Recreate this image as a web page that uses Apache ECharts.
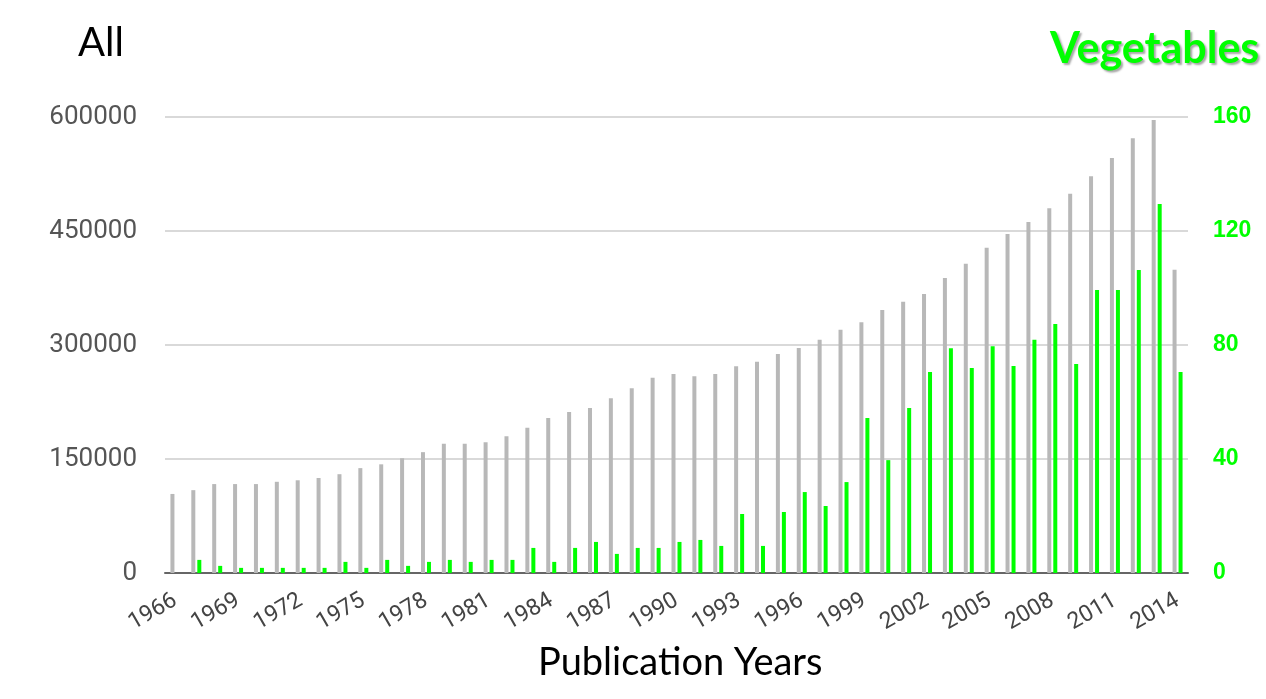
<!DOCTYPE html>
<html>
<head>
<meta charset="utf-8">
<title>Publication Years</title>
<script src="https://cdn.jsdelivr.net/npm/echarts@6/dist/echarts.min.js"></script>
<style>
  html, body { margin: 0; padding: 0; background: #fff; }
  #container { width: 1266px; height: 699px; }
</style>
</head>
<body>
<div id="container"></div>
<script>
// 年份
const years = [
  '1966', '1967', '1968', '1969', '1970', '1971', '1972', '1973', '1974', '1975',
  '1976', '1977', '1978', '1979', '1980', '1981', '1982', '1983', '1984', '1985',
  '1986', '1987', '1988', '1989', '1990', '1991', '1992', '1993', '1994', '1995',
  '1996', '1997', '1998', '1999', '2000', '2001', '2002', '2003', '2004', '2005',
  '2006', '2007', '2008', '2009', '2010', '2011', '2012', '2013', '2014'
]

// All (左轴)
const allValues = [
  104000, 109000, 117000, 117000, 117000, 120000, 122000, 125000, 130000, 138000,
  143000, 151000, 159000, 170000, 170000, 172000, 180000, 191000, 204000, 212000,
  217000, 230000, 243000, 257000, 262000, 259000, 262000, 272000, 278000, 288000,
  296000, 307000, 320000, 330000, 346000, 357000, 367000, 388000, 407000, 428000,
  446000, 462000, 480000, 499000, 522000, 546000, 572000, 596000, 399000
]

// Vegetables (右轴)，读图估计
const vegValues = [
  0, 4.6, 2.5, 1.8, 1.8, 1.8, 1.8, 1.8, 3.9, 1.8,
  4.6, 2.5, 3.9, 4.6, 3.9, 4.6, 4.6, 8.8, 3.9, 8.8,
  10.9, 6.7, 8.8, 8.8, 10.9, 11.6, 9.5, 20.7, 9.5, 21.4,
  28.4, 23.5, 31.9, 54.4, 39.6, 57.9, 70.5, 78.9, 71.9, 79.6,
  72.6, 81.8, 87.4, 73.3, 99.3, 99.3, 106.3, 129.5, 70.5
]

// 刻度
const leftTicks = { min: 0, max: 600000, interval: 150000 }
const rightTicks = { min: 0, max: 160, interval: 40 }

const grey = '#b8b8b8'
const green = '#00ff00'

let myChart = echarts.init(document.getElementById('container'))

let option = {
  animation: false,
  backgroundColor: '#fff',
  grid: {
    left: 165,
    right: 78,
    top: 117,
    bottom: 126,
    containLabel: false,
    outerBoundsMode: 'none'
  },
  xAxis: {
    type: 'category',
    data: years,
    axisLine: {
      lineStyle: { color: '#666', width: 2 }
    },
    axisTick: { show: false },
    axisLabel: {
      interval: 2,
      rotate: 30,
      margin: 26,
      color: '#444',
      fontSize: 23,
      fontFamily: 'Roboto'
    }
  },
  yAxis: [
    {
      type: 'value',
      min: leftTicks.min,
      max: leftTicks.max,
      interval: leftTicks.interval,
      axisLine: { show: false },
      axisTick: { show: false },
      axisLabel: {
        margin: 28,
        color: '#555',
        fontSize: 26,
        fontFamily: 'Roboto',
        formatter: function (v) {
          return String(v)
        }
      },
      splitLine: {
        lineStyle: { color: '#d9d9d9', width: 2 }
      }
    },
    {
      type: 'value',
      position: 'right',
      min: rightTicks.min,
      max: rightTicks.max,
      interval: rightTicks.interval,
      axisLine: { show: false },
      axisTick: { show: false },
      axisLabel: {
        margin: 25,
        color: green,
        fontSize: 23,
        fontWeight: 'bold',
        fontFamily: 'Liberation Sans'
      },
      splitLine: { show: false }
    }
  ],
  series: [
    {
      name: 'All',
      type: 'bar',
      yAxisIndex: 0,
      data: allValues,
      barWidth: 4,
      barGap: '50%',
      itemStyle: { color: grey }
    },
    {
      name: 'Vegetables',
      type: 'bar',
      yAxisIndex: 1,
      data: vegValues,
      barWidth: 4,
      barGap: '50%',
      itemStyle: { color: green }
    }
  ],
  graphic: [
    {
      type: 'text',
      left: 78,
      top: 23,
      style: {
        text: 'All',
        fill: '#000',
        font: '40px Lato'
      }
    },
    {
      type: 'text',
      left: 1050,
      top: 28,
      style: {
        text: 'Vegetables',
        fill: green,
        font: 'bold 43px Lato',
        textShadowColor: 'rgba(0,0,0,0.35)',
        textShadowBlur: 2,
        textShadowOffsetX: 2,
        textShadowOffsetY: 2
      }
    },
    {
      type: 'text',
      left: 538,
      top: 644,
      style: {
        text: 'Publication Years',
        fill: '#000',
        font: '38px Lato'
      }
    }
  ]
}

myChart.setOption(option)
</script>
</body>
</html>
